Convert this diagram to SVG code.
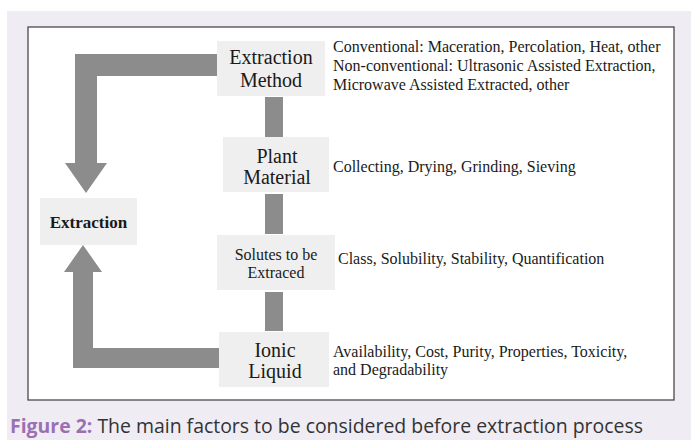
<svg xmlns="http://www.w3.org/2000/svg" width="691" height="440" viewBox="0 0 691 440">
<style>
.box{fill:#efefef}
.lbl{font-family:"Liberation Serif","Times New Roman",serif;font-size:20px;fill:#1a1a1a;text-anchor:middle}
.sm{font-size:16px}
.desc{font-family:"Liberation Serif","Times New Roman",serif;font-size:16px;fill:#1a1a1a}
.conn{fill:#8c8c8c}
</style>
<rect x="0" y="0" width="691" height="440" fill="#ffffff"/>
<rect x="7" y="11" width="684" height="429" fill="#efedf3"/>
<rect x="28" y="27" width="646" height="373" fill="#ffffff" stroke="#3a3a3a" stroke-width="1.2"/>
<g id="connectors">
<polygon class="conn" points="217,54 75,54 75,163 65,163 86,193 107,163 97,163 97,76 217,76"/>
<polygon class="conn" points="219,368 73,368 73,272 64,272 83,245 102,272 93,272 93,348 219,348"/>
<rect class="conn" x="265" y="97" width="18" height="40"/>
<rect class="conn" x="265" y="194" width="18" height="40"/>
<rect class="conn" x="265" y="292" width="18" height="39"/>
</g>
<g id="extraction-method">
<rect class="box" x="217" y="41" width="108" height="55"/>
<text class="lbl" x="271" y="64">Extraction</text>
<text class="lbl" x="271" y="87">Method</text>
</g>
<g id="plant-material">
<rect class="box" x="223" y="137" width="106" height="55"/>
<text class="lbl" x="277" y="163">Plant</text>
<text class="lbl" x="277" y="184">Material</text>
</g>
<g id="solutes">
<rect class="box" x="217" y="235" width="118" height="55"/>
<text class="lbl sm" x="276" y="260">Solutes to be</text>
<text class="lbl sm" x="276" y="278">Extraced</text>
</g>
<g id="ionic-liquid">
<rect class="box" x="219" y="332" width="110" height="55"/>
<text class="lbl" x="275" y="357">Ionic</text>
<text class="lbl" x="275" y="378">Liquid</text>
</g>
<g id="extraction">
<rect class="box" x="40" y="198" width="97" height="47"/>
<text class="lbl" x="88.5" y="228" style="font-size:17px;font-weight:bold">Extraction</text>
</g>
<g id="descriptions">
<text class="desc" x="333" y="52">Conventional: Maceration, Percolation, Heat, other</text>
<text class="desc" x="333" y="71">Non-conventional: Ultrasonic Assisted Extraction,</text>
<text class="desc" x="333" y="90">Microwave Assisted Extracted, other</text>
<text class="desc" x="333" y="172">Collecting, Drying, Grinding, Sieving</text>
<text class="desc" x="338" y="264">Class, Solubility, Stability, Quantification</text>
<text class="desc" x="333" y="357">Availability, Cost, Purity, Properties, Toxicity,</text>
<text class="desc" x="333" y="375">and Degradability</text>
</g>
<text x="10" y="433" font-family="'Open Sans','Noto Sans',sans-serif" font-size="20" fill="#333333" textLength="633" lengthAdjust="spacingAndGlyphs"><tspan font-weight="bold" fill="#9b70b3">Figure 2:</tspan> The main factors to be considered before extraction process</text>
</svg>
